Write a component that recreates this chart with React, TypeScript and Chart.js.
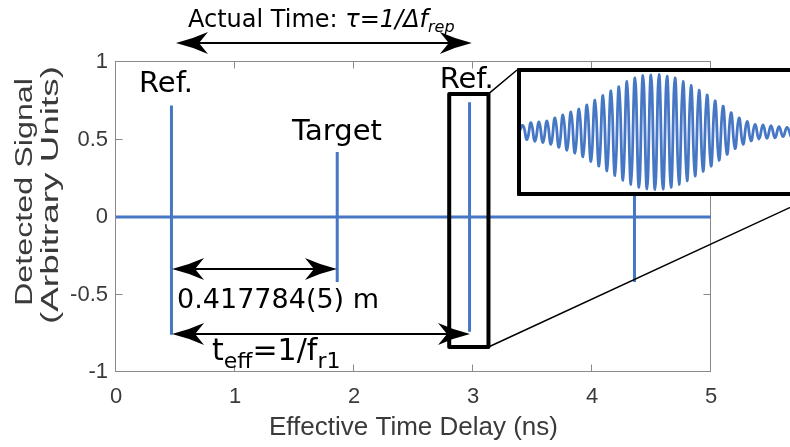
import React, { useEffect, useRef } from "react";
import { Chart, registerables } from "chart.js";

Chart.register(...registerables);

// ---------- data ----------
const xMin = 0;
const xMax = 5;
const yMin = -1;
const yMax = 1;
const spikeTimes = [0.466, 1.859, 2.971, 4.357];
const spikeTops = [0.72, 0.42, 0.74, 0.42];
const spikeBottoms = [-0.76, -0.42, -0.74, -0.42];

// inset interferogram: successive crest and trough amplitudes
const waveCrests = [0.11, 0.16, 0.17, 0.19, 0.24, 0.29, 0.34, 0.39, 0.46, 0.54, 0.62, 0.7, 0.77, 0.86, 0.92, 0.96, 0.97, 0.98, 0.95, 0.92, 0.86, 0.79, 0.71, 0.63, 0.53, 0.44, 0.33, 0.24, 0.18, 0.13, 0.12, 0.11, 0.09, 0.08];
const waveTroughs = [0.13, 0.16, 0.18, 0.21, 0.26, 0.31, 0.36, 0.42, 0.5, 0.58, 0.66, 0.74, 0.82, 0.89, 0.94, 0.97, 0.98, 0.97, 0.94, 0.89, 0.83, 0.75, 0.67, 0.58, 0.48, 0.38, 0.28, 0.21, 0.15, 0.12, 0.11, 0.1, 0.08, 0.08];

const BLUE = "#4677c4";
const AXIS_GRAY = "#8a8a8a";
const LABEL_GRAY = "#3a3a3a";
const SANS = "'Liberation Sans', Arial, sans-serif";
const ANN = "'DejaVu Sans', sans-serif";

// inset layout (pixels)
const INSET_LEFT = 517;
const INSET_TOP = 68;
const INSET_W = 300;
const INSET_H = 128;
const INSET_BORDER = 4;

function buildMainData() {
  const pts: { x: number; y: number }[] = [{ x: xMin, y: 0 }];
  spikeTimes.forEach((t, i) => {
    pts.push({ x: t, y: 0 });
    pts.push({ x: t, y: spikeTops[i] });
    pts.push({ x: t, y: spikeBottoms[i] });
    pts.push({ x: t, y: 0 });
  });
  pts.push({ x: xMax, y: 0 });
  return pts;
}

function buildWaveData() {
  const pts: { x: number; y: number }[] = [{ x: 0, y: 0 }];
  waveCrests.forEach((c, i) => {
    pts.push({ x: 2 * i + 1, y: c });
    if (i < waveTroughs.length) pts.push({ x: 2 * i + 2, y: -waveTroughs[i] });
  });
  return pts;
}

type Seg = { text: string; size: number; italic?: boolean; dy?: number };

function drawRich(ctx: CanvasRenderingContext2D, segs: Seg[], x: number, y: number) {
  let cx = x;
  ctx.textAlign = "left";
  ctx.textBaseline = "alphabetic";
  for (const s of segs) {
    ctx.font = `${s.italic ? "italic " : ""}${s.size}px ${ANN}`;
    ctx.fillText(s.text, cx, y + (s.dy || 0));
    cx += ctx.measureText(s.text).width;
  }
}

function arrowHead(ctx: CanvasRenderingContext2D, tx: number, ty: number, dir: number) {
  const L = 32;
  const W = 11;
  const N = 0.72 * L;
  ctx.beginPath();
  ctx.moveTo(tx, ty);
  ctx.quadraticCurveTo(tx - dir * L * 0.5, ty - W * 0.35, tx - dir * L, ty - W);
  ctx.lineTo(tx - dir * N, ty);
  ctx.lineTo(tx - dir * L, ty + W);
  ctx.quadraticCurveTo(tx - dir * L * 0.5, ty + W * 0.35, tx, ty);
  ctx.closePath();
  ctx.fill();
}

function doubleArrow(ctx: CanvasRenderingContext2D, x1: number, x2: number, y: number) {
  ctx.save();
  ctx.strokeStyle = "#000";
  ctx.fillStyle = "#000";
  ctx.lineWidth = 2;
  ctx.beginPath();
  ctx.moveTo(x1 + 10, y);
  ctx.lineTo(x2 - 10, y);
  ctx.stroke();
  arrowHead(ctx, x1, y, -1);
  arrowHead(ctx, x2, y, 1);
  ctx.restore();
}

function stretchedVertical(ctx: CanvasRenderingContext2D, text: string, baseX: number, cy: number, len: number, size: number) {
  ctx.save();
  ctx.font = `${size}px ${SANS}`;
  const w = ctx.measureText(text).width;
  ctx.translate(baseX, cy);
  ctx.rotate(-Math.PI / 2);
  ctx.scale(len / w, 1);
  ctx.textAlign = "center";
  ctx.textBaseline = "alphabetic";
  ctx.fillStyle = LABEL_GRAY;
  ctx.fillText(text, 0, 0);
  ctx.restore();
}

const framePlugin = {
  id: "frame",
  beforeDatasetsDraw(chart: any) {
    const { ctx, chartArea } = chart;
    const xs = chart.scales.x;
    const ys = chart.scales.y;
    const l = Math.round(chartArea.left) - 0.5;
    const r = Math.round(chartArea.right) - 0.5;
    const t = Math.round(chartArea.top) - 0.5;
    const b = Math.round(chartArea.bottom) - 0.5;
    ctx.save();
    ctx.strokeStyle = AXIS_GRAY;
    ctx.lineWidth = 1;
    ctx.strokeRect(l, t, r - l, b - t);
    const tl = 7;
    ctx.beginPath();
    xs.ticks.forEach((tk: any) => {
      const p = Math.round(xs.getPixelForValue(tk.value)) - 0.5;
      ctx.moveTo(p, b);
      ctx.lineTo(p, b - tl);
      ctx.moveTo(p, t);
      ctx.lineTo(p, t + tl);
    });
    ys.ticks.forEach((tk: any) => {
      const p = Math.round(ys.getPixelForValue(tk.value)) - 0.5;
      ctx.moveTo(l, p);
      ctx.lineTo(l + tl, p);
      ctx.moveTo(r, p);
      ctx.lineTo(r - tl, p);
    });
    ctx.stroke();
    ctx.restore();
  },
  afterDraw(chart: any) {
    const { ctx } = chart;
    const px = (v: number) => chart.scales.x.getPixelForValue(v);
    const py = (v: number) => chart.scales.y.getPixelForValue(v);

    // y axis title
    stretchedVertical(ctx, "Detected Signal", 32, 192, 228, 23);
    stretchedVertical(ctx, "(Arbitrary Units)", 58, 195, 258, 23);

    ctx.save();
    ctx.fillStyle = "#000";
    drawRich(ctx, [{ text: "Ref.", size: 29 }], px(0.193), py(0.806));
    drawRich(ctx, [{ text: "Ref.", size: 29 }], px(2.72), py(0.832));
    drawRich(ctx, [{ text: "Target", size: 29 }], px(1.48), py(0.497));
    drawRich(ctx, [{ text: "0.417784(5) m", size: 27 }], px(0.513), py(-0.587));
    drawRich(
      ctx,
      [
        { text: "t", size: 30 },
        { text: "eff", size: 22, dy: 8 },
        { text: "=1/f", size: 30 },
        { text: "r1", size: 22, dy: 8 },
      ],
      px(0.807),
      py(-0.923)
    );
    drawRich(
      ctx,
      [
        { text: "Actual Time: ", size: 24 },
        { text: "\u03c4=1/\u0394f", size: 24, italic: true },
        { text: "rep", size: 16, italic: true, dy: 5 },
      ],
      px(0.605),
      py(1.226)
    );
    ctx.restore();

    doubleArrow(ctx, px(0.504), px(2.99), py(1.123));
    doubleArrow(ctx, px(0.471), px(1.857), py(-0.335));
    doubleArrow(ctx, px(0.471), px(2.975), py(-0.755));

    // zoom box
    const bx1 = px(2.8);
    const bx2 = px(3.13);
    const by1 = py(0.794);
    const by2 = py(-0.839);
    ctx.save();
    ctx.strokeStyle = "#000";
    ctx.lineJoin = "round";
    ctx.lineWidth = 4;
    ctx.strokeRect(bx1, by1, bx2 - bx1, by2 - by1);
    ctx.lineWidth = 1.5;
    ctx.beginPath();
    ctx.moveTo(bx2, by1);
    ctx.lineTo(INSET_LEFT, INSET_TOP + 2);
    ctx.moveTo(bx2, by2);
    ctx.lineTo(INSET_LEFT + INSET_W, INSET_TOP + INSET_H - 1);
    ctx.stroke();
    ctx.restore();
  },
};

export default function App() {
  const mainRef = useRef<HTMLCanvasElement>(null);
  const insetRef = useRef<HTMLCanvasElement>(null);

  useEffect(() => {
    const main = new Chart(mainRef.current!, {
      type: "line",
      data: {
        datasets: [
          {
            data: buildMainData(),
            borderColor: BLUE,
            borderWidth: 3,
            pointRadius: 0,
            tension: 0,
            fill: false,
          },
        ],
      },
      options: {
        animation: false,
        responsive: false,
        maintainAspectRatio: false,
        parsing: false,
        layout: { padding: { left: 0, top: 62, right: 79, bottom: 0 } },
        plugins: { legend: { display: false }, tooltip: { enabled: false } },
        scales: {
          x: {
            type: "linear",
            min: xMin,
            max: xMax,
            grid: { display: false, drawTicks: false },
            border: { display: false },
            ticks: {
              stepSize: 1,
              padding: 12,
              maxRotation: 0,
              color: LABEL_GRAY,
              font: { family: SANS, size: 22 },
              callback: (v: any) => String(v),
            },
            title: {
              display: true,
              text: "Effective Time Delay (ns)",
              color: LABEL_GRAY,
              font: { family: SANS, size: 26 },
              padding: { top: 0, bottom: 4 },
            },
            afterFit: (s: any) => {
              s.height = 75;
            },
          },
          y: {
            type: "linear",
            min: yMin,
            max: yMax,
            grid: { display: false, drawTicks: false },
            border: { display: false },
            ticks: {
              stepSize: 0.5,
              padding: 8,
              color: LABEL_GRAY,
              font: { family: SANS, size: 22 },
              callback: (v: any) => String(Math.round(v * 10) / 10),
            },
            afterFit: (s: any) => {
              s.width = 116;
            },
          },
        },
      } as any,
      plugins: [framePlugin],
    });

    const inset = new Chart(insetRef.current!, {
      type: "line",
      data: {
        datasets: [
          {
            data: buildWaveData(),
            borderColor: BLUE,
            borderWidth: 2.8,
            pointRadius: 0,
            tension: 0.45,
            fill: false,
          },
        ],
      },
      options: {
        animation: false,
        responsive: false,
        maintainAspectRatio: false,
        parsing: false,
        layout: { padding: 0 },
        plugins: { legend: { display: false }, tooltip: { enabled: false } },
        scales: {
          x: { type: "linear", display: false, min: 0.5, max: 0.5 + (INSET_W - 2 * INSET_BORDER) / 4 },
          y: { type: "linear", display: false, min: -1.02, max: 1.02 },
        },
      } as any,
    });

    return () => {
      main.destroy();
      inset.destroy();
    };
  }, []);

  return (
    <div
      style={{
        position: "fixed",
        left: 0,
        top: 0,
        width: 790,
        height: 447,
        overflow: "hidden",
        background: "#fff",
      }}
    >
      <canvas ref={mainRef} width={790} height={447} style={{ display: "block", position: "absolute", left: 0, top: 0 }} />
      <div
        style={{
          position: "absolute",
          left: INSET_LEFT,
          top: INSET_TOP,
          width: INSET_W,
          height: INSET_H,
          boxSizing: "border-box",
          border: `${INSET_BORDER}px solid #000`,
          borderRadius: 1,
          background: "#fff",
        }}
      >
        <canvas
          ref={insetRef}
          width={INSET_W - 2 * INSET_BORDER}
          height={INSET_H - 2 * INSET_BORDER}
          style={{ display: "block" }}
        />
      </div>
    </div>
  );
}
